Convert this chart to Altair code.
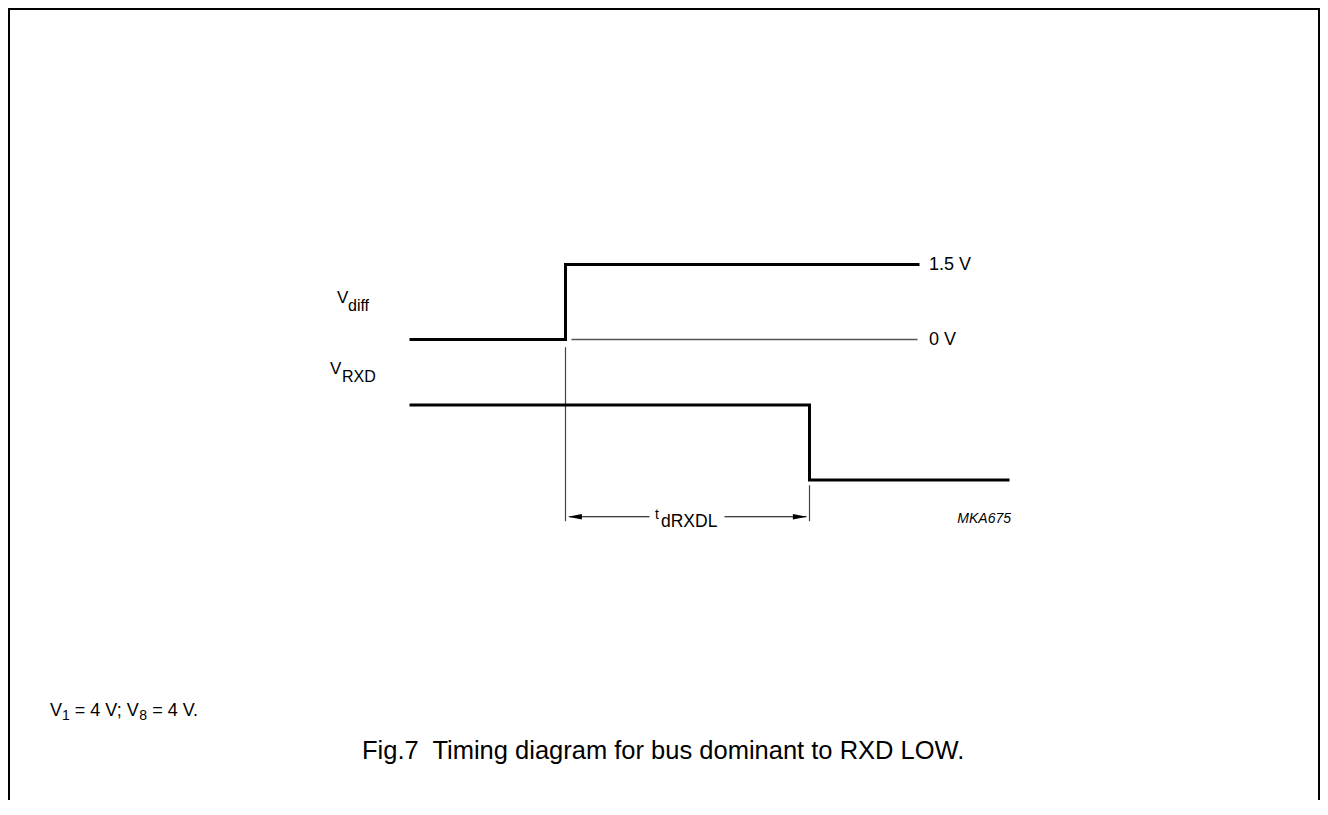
import altair as alt
import pandas as pd

# ---------------- data (time in arbitrary units, V_diff edge at t = 0) ----------------
vdiff_t = [-7.8, 0.0, 0.0, 17.7]
vdiff_level = [0.0, 0.0, 1.5, 1.5]          # volts
rxd_t = [-7.8, 12.2, 12.2, 22.2]
rxd_level = [1, 1, 0, 0]                     # logic level HIGH / LOW
zero_ref_span = [0.3, 17.6]                  # extent of thin 0 V reference
level_values = [1.5, 0.0]
level_labels = ["1.5 V", "0 V"]
marker_t = [0.0, 12.2]                       # timing markers
marker_from = [1.77, -0.07]
marker_to = [-0.55, -0.55]
dim_level = [-0.49, -0.49]                   # dimension line for t_dRXDL
dim_from = [0.2, 7.95]
dim_to = [4.2, 12.05]
arrow_t = [0.47, 11.72]
arrow_dir = ["left", "right"]

FONT = "Liberation Sans, Arial, Helvetica, sans-serif"
W, H = 1312, 792

x_scale = alt.Scale(domain=[-27.875, 37.725], nice=False, zero=False)
vdiff_scale = alt.Scale(domain=[-9.21, 6.63], nice=False, zero=False)
rxd_scale = alt.Scale(domain=[-4.2667, 6.2933], nice=False, zero=False)

vdiff_df = pd.DataFrame({"t": vdiff_t, "v": vdiff_level, "i": range(len(vdiff_t))})
rxd_df = pd.DataFrame({"t": rxd_t, "v": rxd_level, "i": range(len(rxd_t))})
zero_df = pd.DataFrame({"t0": [zero_ref_span[0]], "t1": [zero_ref_span[1]], "v": [0.0]})
lvl_df = pd.DataFrame({"v": level_values, "lab": level_labels})
mark_df = pd.DataFrame({"t": marker_t, "a": marker_from, "b": marker_to})
dim_df = pd.DataFrame({"t0": dim_from, "t1": dim_to, "v": dim_level})
arr_df = pd.DataFrame({"t": arrow_t, "v": dim_level, "d": arrow_dir})

X = lambda f: alt.X(f, type="quantitative", scale=x_scale, axis=None)

vdiff_line = alt.Chart(vdiff_df).mark_line(
    color="black", strokeWidth=3, strokeJoin="miter", strokeCap="butt"
).encode(x=X("t"), y=alt.Y("v:Q", scale=vdiff_scale, axis=None), order="i:Q")

zero_rule = alt.Chart(zero_df).mark_rule(color="#555555", strokeWidth=1.5).encode(
    x=X("t0"), x2="t1:Q", y=alt.Y("v:Q", scale=vdiff_scale, axis=None)
)

lvl_text = alt.Chart(lvl_df).mark_text(
    align="left", baseline="middle", font=FONT, fontSize=18, color="black"
).encode(x=alt.value(921), y=alt.Y("v:Q", scale=vdiff_scale, axis=None), text="lab:N")

rxd_line = alt.Chart(rxd_df).mark_line(
    color="black", strokeWidth=3, strokeJoin="miter", strokeCap="butt"
).encode(x=X("t"), y=alt.Y("v:Q", scale=rxd_scale, axis=None), order="i:Q")

markers = alt.Chart(mark_df).mark_rule(color="#444444", strokeWidth=1.2).encode(
    x=X("t"), y=alt.Y("a:Q", scale=rxd_scale, axis=None), y2="b:Q"
)

dims = alt.Chart(dim_df).mark_rule(color="black", strokeWidth=1.2).encode(
    x=X("t0"), x2="t1:Q", y=alt.Y("v:Q", scale=rxd_scale, axis=None)
)

LEFT = "M-1,0L1,-0.38L1,0.38Z"
RIGHT = "M1,0L-1,-0.38L-1,0.38Z"
arrows = alt.Chart(arr_df).mark_point(filled=True, color="black", opacity=1, size=196, strokeWidth=0).encode(
    x=X("t"), y=alt.Y("v:Q", scale=rxd_scale, axis=None),
    shape=alt.Shape("d:N", scale=alt.Scale(domain=["left", "right"], range=[LEFT, RIGHT]), legend=None),
)


def txt(s, x, y, size, align="left", italic=False, baseline="alphabetic"):
    kw = dict(align=align, baseline=baseline, font=FONT, fontSize=size, color="black")
    if italic:
        kw["fontStyle"] = "italic"
    return alt.Chart(pd.DataFrame({"s": [s]})).mark_text(**kw).encode(
        x=alt.value(x), y=alt.value(y), text="s:N"
    )


# approximate Arial advance widths (em) for footnote layout
AW = {"V": .667, "1": .556, "8": .556, "4": .556, " ": .278, "=": .584, ";": .278, ".": .278}
def wid(s, size):
    return sum(AW.get(c, .556) for c in s) * size

labels = [
    txt("V", 329, 295, 17), txt("diff", 340, 303, 16),
    txt("V", 322, 366, 17), txt("RXD", 334, 374, 16),
    txt("t", 647, 511, 14), txt("dRXDL", 653, 519, 17.5),
    txt("MKA675", 1003, 515, 14, align="right", italic=True),
    txt("Fig.7\u00a0 Timing diagram for bus dominant to RXD LOW.", 354, 751, 25.5),
]

# footnote V1 = 4 V; V8 = 4 V.  (spaces handled as offsets, SVG strips leading blanks)
fs, ss = 18, 14
fx, fy = 42, 708
parts = [("V", fs, 0, 0), ("1", ss, 4, 0), ("= 4 V; V", fs, 0, wid(" ", fs)),
         ("8", ss, 4, 0), ("= 4 V.", fs, 0, wid(" ", fs))]
cx = fx
for s, sz, dy, pre in parts:
    cx += pre
    labels.append(txt(s, cx, fy + dy, sz))
    cx += wid(s, sz)

frame = [
    alt.Chart(pd.DataFrame({"k": [0]})).mark_rule(color="black", strokeWidth=2).encode(
        x=alt.value(1), x2=alt.value(W - 1), y=alt.value(1)),
    alt.Chart(pd.DataFrame({"k": [0]})).mark_rule(color="black", strokeWidth=2).encode(
        x=alt.value(1), y=alt.value(0), y2=alt.value(H)),
    alt.Chart(pd.DataFrame({"k": [0]})).mark_rule(color="black", strokeWidth=2).encode(
        x=alt.value(W - 1), y=alt.value(0), y2=alt.value(H)),
]

chart = alt.layer(
    *frame, zero_rule, vdiff_line, lvl_text, markers, rxd_line, dims, arrows, *labels
).resolve_scale(y="independent").properties(
    width=W, height=H, padding=0, autosize=alt.AutoSizeParams(type="none")
).configure_view(stroke=None).configure(background="white")

chart.save("out.html", embed_options={"renderer": "svg", "actions": False})
